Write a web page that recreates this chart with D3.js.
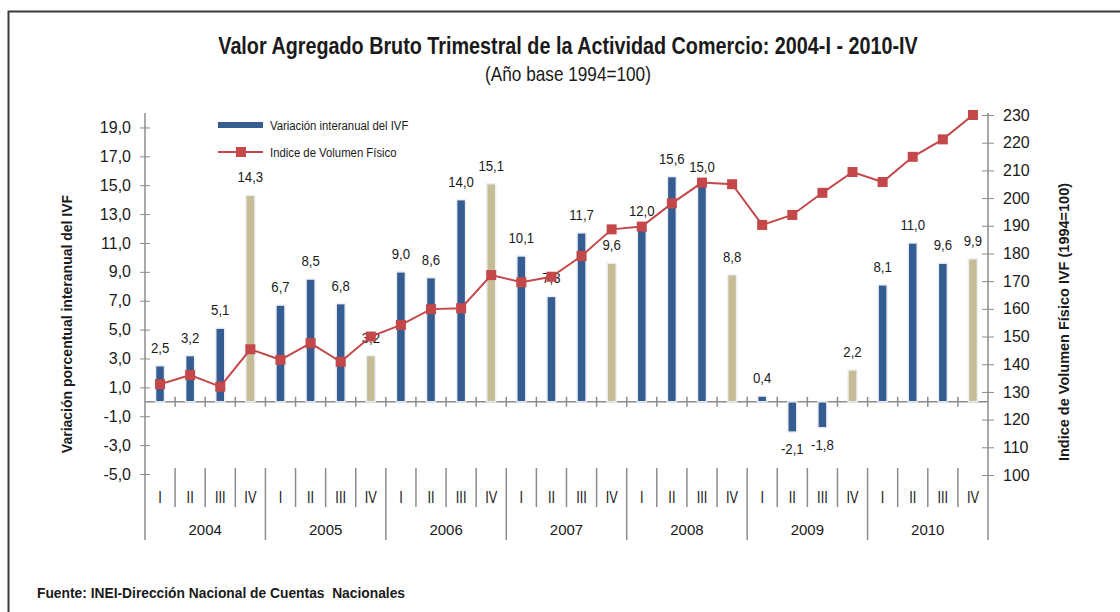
<!DOCTYPE html>
<meta charset="utf-8">
<style>
body { margin: 0; background: #fff; }
text { font-family: "Liberation Sans", Arial, sans-serif; fill: #1a1a1a; }
.axis path, .axis line { stroke: #8c8c8c; }
</style>
<body>
<div id="chart"></div>
<script src="https://d3js.org/d3.v7.min.js"></script>
<script>
// quarters and years
var years = ["2004", "2005", "2006", "2007", "2008", "2009", "2010"];
var quarters = ["I", "II", "III", "IV"];
// variacion interanual del IVF (%)
var variacion = [2.5, 3.2, 5.1, 14.3, 6.7, 8.5, 6.8, 3.2, 9.0, 8.6, 14.0, 15.1,
                 10.1, 7.3, 11.7, 9.6, 12.0, 15.6, 15.0, 8.8, 0.4, -2.1, -1.8, 2.2,
                 8.1, 11.0, 9.6, 9.9];
// indice de volumen fisico (1994=100)
var indice = [132.8, 136.1, 131.9, 145.4, 141.6, 147.6, 140.9, 150.0, 154.2, 159.9, 160.2, 172.2,
              169.6, 171.6, 179.1, 188.7, 189.7, 198.1, 205.6, 205.0, 190.3, 193.9, 201.9, 209.4,
              205.8, 214.9, 221.2, 230.0];
var leftTicks = [-5, -3, -1, 1, 3, 5, 7, 9, 11, 13, 15, 17, 19];
var rightTicks = [100, 110, 120, 130, 140, 150, 160, 170, 180, 190, 200, 210, 220, 230];

var W = 1120, H = 612;
var plot = {left: 145, right: 988, top: 113, bottom: 474};

var locale = d3.formatLocale({decimal: ",", thousands: ".", grouping: [3], currency: ["", ""], minus: "-"});
var fmt = locale.format(".1f");

var svg = d3.select("#chart").append("svg")
    .attr("width", W)
    .attr("height", H);

// frame
svg.append("path")
    .attr("d", "M8.5," + (H + 5) + "V11.5H" + (W + 5))
    .attr("fill", "none")
    .attr("stroke", "#3a3a3a")
    .attr("stroke-width", 2);

var idx = d3.range(variacion.length);
var x = d3.scaleBand().domain(idx).range([plot.left, plot.right]);
var yL = d3.scaleLinear().domain([-5, 20]).range([plot.bottom, plot.top]);
var yR = d3.scaleLinear().domain([100, 230]).range([plot.bottom + 1, 115]);

// narrow-looking text: squeeze horizontally
function narrowText(px, py, size, txt, bold, anchor) {
  var t = svg.append("text")
      .attr("transform", "translate(" + px + "," + py + ") scale(0.86,1)")
      .attr("text-anchor", anchor || "start")
      .style("font-size", size + "px")
      .text(txt);
  if (bold) t.attr("font-weight", "bold");
  return t;
}

// title
narrowText(568, 54, 23, "Valor Agregado Bruto Trimestral de la Actividad Comercio: 2004-I - 2010-IV", true, "middle");
narrowText(568, 81, 20, "(Año base 1994=100)", false, "middle");

// left axis
var gL = svg.append("g")
    .attr("class", "axis")
    .attr("transform", "translate(" + plot.left + ",0)")
    .call(d3.axisLeft(yL).tickValues(leftTicks).tickFormat(fmt).tickSize(5).tickSizeOuter(0).tickPadding(9));
gL.select(".domain").remove();
gL.selectAll(".tick line").attr("x2", 5).attr("x1", -5);
gL.selectAll("text").style("font-size", "16px").attr("fill", "#1a1a1a");

// right axis
var gR = svg.append("g")
    .attr("class", "axis")
    .attr("transform", "translate(" + plot.right + ",0)")
    .call(d3.axisRight(yR).tickValues(rightTicks).tickSize(6).tickSizeOuter(0).tickPadding(9));
gR.select(".domain").remove();
gR.selectAll(".tick line").attr("x1", -6).attr("x2", 6);
gR.selectAll("text").style("font-size", "16px").attr("fill", "#1a1a1a");

// axis lines running down through the category area
[plot.left, plot.right].forEach(function(px) {
  svg.append("line")
      .attr("x1", px).attr("x2", px)
      .attr("y1", plot.top).attr("y2", 540)
      .attr("stroke", "#8c8c8c").attr("stroke-width", 1.5);
});

// zero line with crossing ticks
var y0 = yL(0);
svg.append("line")
    .attr("x1", plot.left).attr("x2", plot.right)
    .attr("y1", y0).attr("y2", y0)
    .attr("stroke", "#8c8c8c").attr("stroke-width", 1.5);
svg.selectAll(".zt")
    .data(d3.range(1, variacion.length))
    .enter().append("line")
    .attr("x1", function(d) { return x(d); })
    .attr("x2", function(d) { return x(d); })
    .attr("y1", y0 - 5).attr("y2", y0 + 5)
    .attr("stroke", "#8c8c8c").attr("stroke-width", 1.5);

// category separators
svg.selectAll(".sep")
    .data(d3.range(1, variacion.length))
    .enter().append("line")
    .attr("x1", function(d) { return x(d); })
    .attr("x2", function(d) { return x(d); })
    .attr("y1", 468)
    .attr("y2", function(d) { return d % 4 === 0 ? 540 : 507; })
    .attr("stroke", "#8c8c8c").attr("stroke-width", 1.5);

svg.selectAll(".qlab")
    .data(idx)
    .enter().append("text")
    .attr("transform", function(d) { return "translate(" + (x(d) + x.bandwidth() / 2) + ",503) scale(0.8,1)"; })
    .attr("text-anchor", "middle")
    .style("font-size", "16px")
    .text(function(d) { return quarters[d % 4]; });

svg.selectAll(".ylab")
    .data(years)
    .enter().append("text")
    .attr("x", function(d, i) { return x(i * 4) + x.bandwidth() * 2; })
    .attr("y", 535)
    .attr("text-anchor", "middle")
    .style("font-size", "15px")
    .text(function(d) { return d; });

// bars
var bw = 9;
svg.selectAll(".bar")
    .data(variacion)
    .enter().append("rect")
    .attr("x", function(d, i) { return x(i) + x.bandwidth() / 2 - bw / 2; })
    .attr("y", function(d) { return d >= 0 ? yL(d) : y0; })
    .attr("width", bw)
    .attr("height", function(d) { return Math.abs(yL(d) - y0); })
    .attr("fill", function(d, i) { return i % 4 === 3 ? "#c6bd96" : "#355d91"; })
    .attr("stroke", "#eceff4")
    .attr("stroke-width", 1.5);

// bar labels
svg.selectAll(".blab")
    .data(variacion)
    .enter().append("text")
    .attr("transform", function(d, i) {
      var ty = d >= 0 ? yL(d) - 13 : yL(d) + 22;
      return "translate(" + (x(i) + x.bandwidth() / 2) + "," + ty + ") scale(0.88,1)";
    })
    .attr("text-anchor", "middle")
    .style("font-size", "15px")
    .text(function(d) { return fmt(d); });

// index line
var line = d3.line()
    .x(function(d, i) { return x(i) + x.bandwidth() / 2; })
    .y(function(d) { return yR(d); });
svg.append("path")
    .datum(indice)
    .attr("d", line)
    .attr("fill", "none")
    .attr("stroke", "#c4474a")
    .attr("stroke-width", 2);
var ms = 10;
svg.selectAll(".mk")
    .data(indice)
    .enter().append("rect")
    .attr("x", function(d, i) { return x(i) + x.bandwidth() / 2 - ms / 2; })
    .attr("y", function(d) { return yR(d) - ms / 2; })
    .attr("width", ms).attr("height", ms)
    .attr("fill", "#c4474a");

// legend
svg.append("rect")
    .attr("x", 218).attr("y", 122).attr("width", 45).attr("height", 6)
    .attr("fill", "#355d91");
narrowText(270, 130, 13.5, "Variación interanual del IVF").attr("transform", "translate(270,130) scale(0.84,1)");
svg.append("line")
    .attr("x1", 218).attr("x2", 263).attr("y1", 152).attr("y2", 152)
    .attr("stroke", "#c4474a").attr("stroke-width", 2);
svg.append("rect")
    .attr("x", 236).attr("y", 147).attr("width", 10).attr("height", 10)
    .attr("fill", "#c4474a");
narrowText(270, 157, 13.5, "Indice de Volumen Físico").attr("transform", "translate(270,157) scale(0.84,1)");

// axis titles
svg.append("text")
    .attr("transform", "translate(72,324) rotate(-90)")
    .attr("text-anchor", "middle")
    .attr("font-weight", "bold")
    .style("font-size", "14px")
    .text("Variación porcentual interanual del IVF");
svg.append("text")
    .attr("transform", "translate(1069,322) rotate(-90)")
    .attr("text-anchor", "middle")
    .attr("font-weight", "bold")
    .style("font-size", "14.5px")
    .text("Indice de Volumen Físico IVF (1994=100)");

// source
svg.append("text")
    .attr("x", 37).attr("y", 598)
    .attr("font-weight", "bold")
    .style("font-size", "13.8px")
    .style("white-space", "pre")
    .text("Fuente: INEI-Dirección Nacional de Cuentas  Nacionales");
</script>
</body>
